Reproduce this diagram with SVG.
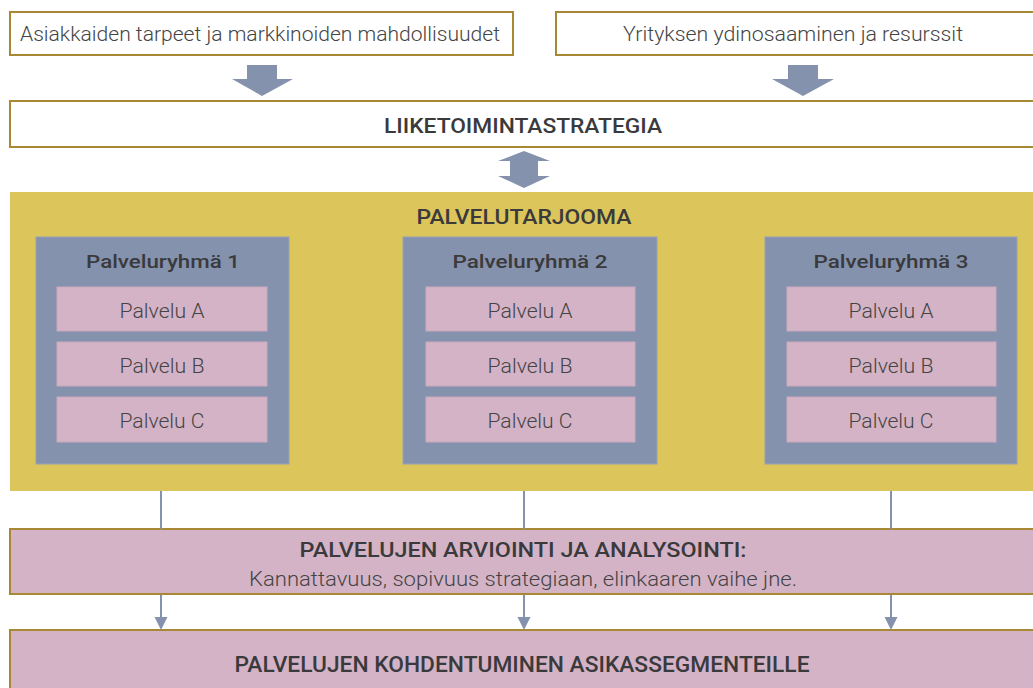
<svg xmlns="http://www.w3.org/2000/svg" width="1033" height="688" viewBox="0 0 1033 688">
<style>
.box{fill:#ffffff;stroke:#a88834;stroke-width:2}
.bar{fill:#d4b3c6;stroke:#a88834;stroke-width:2}
.yel{fill:#dcc55b}
.grp{fill:#8592ad;stroke:#96a0b6;stroke-width:1}
.svc{fill:#d4b3c6;stroke:#c9a9bd;stroke-width:1}
.big{fill:#8592ad}
.ln{stroke:#8592ad;stroke-width:2;fill:none}
.t{font-family:Roboto,"Liberation Sans",sans-serif;font-weight:300;fill:#444444;text-anchor:middle}
.b{font-family:Roboto,"Liberation Sans",sans-serif;font-weight:500;fill:#3a3a3c;text-anchor:middle}
</style>
<g id="needs">
<rect class="box" x="10" y="12" width="503" height="43"/>
<text class="t" x="260" y="41" font-size="20" textLength="480" lengthAdjust="spacingAndGlyphs">Asiakkaiden tarpeet ja markkinoiden mahdollisuudet</text>
</g>
<g id="resources">
<rect class="box" x="556" y="12" width="490" height="43"/>
<text class="t" x="793" y="41" font-size="20" textLength="340" lengthAdjust="spacingAndGlyphs">Yrityksen ydinosaaminen ja resurssit</text>
</g>
<g id="strategy">
<rect class="box" x="10" y="101" width="1036" height="46"/>
<text class="b" x="523" y="133" font-size="21" textLength="278" lengthAdjust="spacingAndGlyphs">LIIKETOIMINTASTRATEGIA</text>
</g>
<g id="offering">
<rect class="yel" x="10" y="192" width="1030" height="299"/>
<text class="b" x="524" y="224" font-size="21" textLength="215" lengthAdjust="spacingAndGlyphs">PALVELUTARJOOMA</text>
</g>
<g id="group1">
<rect class="grp" x="36" y="237" width="253" height="227"/>
<text class="b" x="163" y="268" font-size="19" textLength="154" lengthAdjust="spacingAndGlyphs">Palveluryhmä 1</text>
<rect class="svc" x="57" y="287" width="210" height="44"/>
<text class="t" x="162" y="318" font-size="20" textLength="85" lengthAdjust="spacingAndGlyphs">Palvelu A</text>
<rect class="svc" x="57" y="342" width="210" height="44"/>
<text class="t" x="162" y="373" font-size="20" textLength="85" lengthAdjust="spacingAndGlyphs">Palvelu B</text>
<rect class="svc" x="57" y="397" width="210" height="45"/>
<text class="t" x="162" y="428" font-size="20" textLength="85" lengthAdjust="spacingAndGlyphs">Palvelu C</text>
</g>
<g id="group2">
<rect class="grp" x="403" y="237" width="254" height="227"/>
<text class="b" x="530" y="268" font-size="19" textLength="155" lengthAdjust="spacingAndGlyphs">Palveluryhmä 2</text>
<rect class="svc" x="426" y="287" width="209" height="44"/>
<text class="t" x="530" y="318" font-size="20" textLength="85" lengthAdjust="spacingAndGlyphs">Palvelu A</text>
<rect class="svc" x="426" y="342" width="209" height="44"/>
<text class="t" x="530" y="373" font-size="20" textLength="85" lengthAdjust="spacingAndGlyphs">Palvelu B</text>
<rect class="svc" x="426" y="397" width="209" height="45"/>
<text class="t" x="530" y="428" font-size="20" textLength="85" lengthAdjust="spacingAndGlyphs">Palvelu C</text>
</g>
<g id="group3">
<rect class="grp" x="765" y="237" width="252" height="227"/>
<text class="b" x="891" y="268" font-size="19" textLength="155" lengthAdjust="spacingAndGlyphs">Palveluryhmä 3</text>
<rect class="svc" x="787" y="287" width="209" height="44"/>
<text class="t" x="891" y="318" font-size="20" textLength="85" lengthAdjust="spacingAndGlyphs">Palvelu A</text>
<rect class="svc" x="787" y="342" width="209" height="44"/>
<text class="t" x="891" y="373" font-size="20" textLength="85" lengthAdjust="spacingAndGlyphs">Palvelu B</text>
<rect class="svc" x="787" y="397" width="209" height="45"/>
<text class="t" x="891" y="428" font-size="20" textLength="85" lengthAdjust="spacingAndGlyphs">Palvelu C</text>
</g>
<g id="analysis">
<rect class="bar" x="10" y="529" width="1036" height="65"/>
<text class="b" x="523" y="557" font-size="21" textLength="447" lengthAdjust="spacingAndGlyphs">PALVELUJEN ARVIOINTI JA ANALYSOINTI:</text>
<text class="t" x="523" y="586" font-size="20" textLength="548" lengthAdjust="spacingAndGlyphs">Kannattavuus, sopivuus strategiaan, elinkaaren vaihe jne.</text>
</g>
<g id="targeting">
<rect class="bar" x="10" y="630" width="1036" height="70"/>
<text class="b" x="522" y="672" font-size="22" textLength="575" lengthAdjust="spacingAndGlyphs">PALVELUJEN KOHDENTUMINEN ASIKASSEGMENTEILLE</text>
</g>
<g id="connectors">
<path class="big" d="M247,65 H277 V79 H293 L262,96 L232,79 H247 Z"/>
<path class="big" d="M788,65 H818 V79 H834 L803,96 L772,79 H788 Z"/>
<path class="big" d="M524,151 L550,161 H538 V176 H550 L524,188 L498,176 H510 V161 H498 Z"/>
<line class="ln" x1="161" y1="491" x2="161" y2="529"/>
<line class="ln" x1="524" y1="491" x2="524" y2="529"/>
<line class="ln" x1="891" y1="491" x2="891" y2="529"/>
<line class="ln" x1="161" y1="595" x2="161" y2="618"/>
<line class="ln" x1="524" y1="595" x2="524" y2="618"/>
<line class="ln" x1="891" y1="595" x2="891" y2="618"/>
<path class="big" d="M154.5,617 H167.5 L161,630 Z"/>
<path class="big" d="M517.5,617 H530.5 L524,630 Z"/>
<path class="big" d="M884.5,617 H897.5 L891,630 Z"/>
</g>
</svg>
